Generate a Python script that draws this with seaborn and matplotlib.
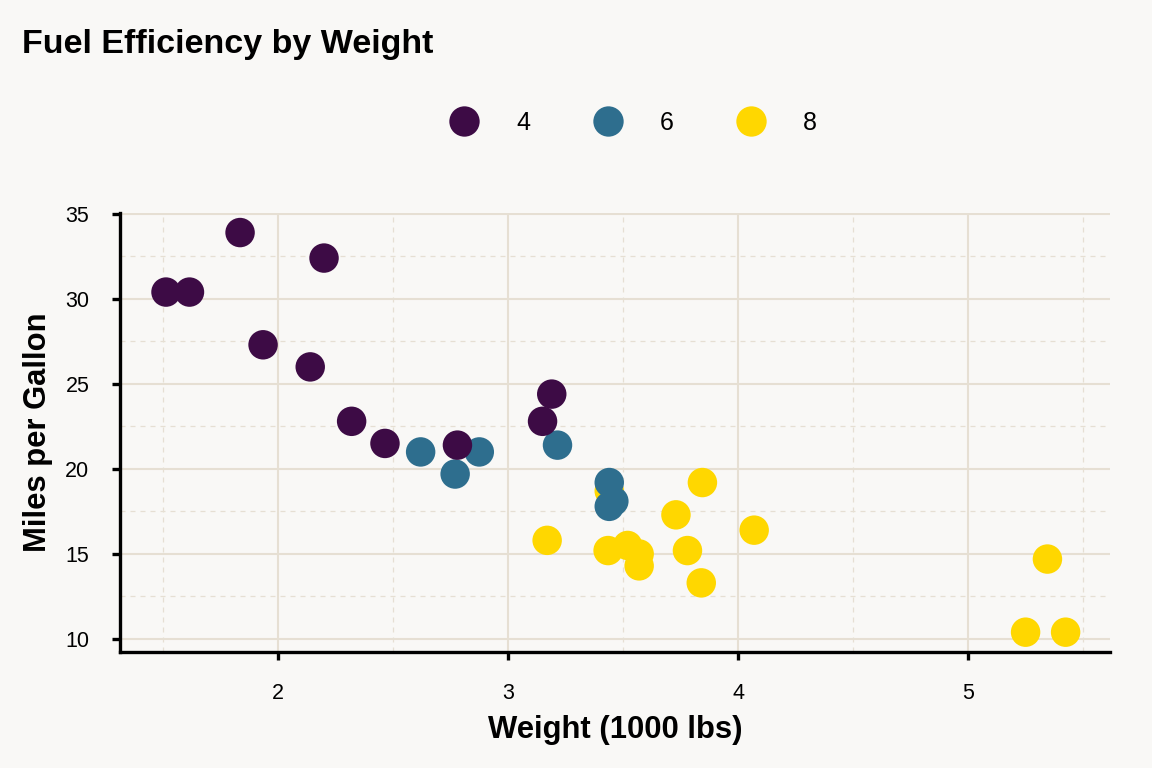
import pandas as pd
import matplotlib.pyplot as plt
import seaborn as sns
from matplotlib.ticker import MultipleLocator

# mtcars: weight (1000 lbs), mpg, cylinders
weight = [2.620, 2.875, 2.320, 3.215, 3.440, 3.460, 3.570, 3.190, 3.150, 3.440,
          3.440, 4.070, 3.730, 3.780, 5.250, 5.424, 5.345, 2.200, 1.615, 1.835,
          2.465, 3.520, 3.435, 3.840, 3.845, 1.935, 2.140, 1.513, 3.170, 2.770,
          3.570, 2.780]
mpg = [21.0, 21.0, 22.8, 21.4, 18.7, 18.1, 14.3, 24.4, 22.8, 19.2,
       17.8, 16.4, 17.3, 15.2, 10.4, 10.4, 14.7, 32.4, 30.4, 33.9,
       21.5, 15.5, 15.2, 13.3, 19.2, 27.3, 26.0, 30.4, 15.8, 19.7,
       15.0, 21.4]
cyl = [6, 6, 4, 6, 8, 6, 8, 4, 4, 6,
       6, 8, 8, 8, 8, 8, 8, 4, 4, 4,
       4, 8, 8, 8, 8, 4, 4, 4, 8, 6,
       8, 4]
cyl_levels = [4, 6, 8]
cyl_colors = ['#3d0b45', '#2e6e8e', '#ffd700']

df = pd.DataFrame({'wt': weight, 'mpg': mpg, 'cyl': cyl})
df['cyl'] = df['cyl'].astype(str)

bg = '#f9f8f6'
grid_col = '#e6dfd3'

sns.set_theme(style='white')
plt.rcParams['font.family'] = ['Liberation Sans', 'DejaVu Sans']
plt.rcParams['text.color'] = 'black'
plt.rcParams['axes.labelcolor'] = 'black'

fig = plt.figure(figsize=(11.52, 7.68), dpi=100, facecolor=bg)
ax = fig.add_axes([120 / 1152, 1 - 652 / 768, 990 / 1152, 439 / 768])
ax.set_facecolor(bg)

sns.scatterplot(data=df, x='wt', y='mpg', hue='cyl',
                hue_order=[str(c) for c in cyl_levels],
                palette=cyl_colors, s=450, linewidth=0, alpha=1,
                ax=ax, zorder=3)

ax.set_xlim(1.313, 5.617)
ax.set_ylim(9.235, 35.05)
ax.xaxis.set_major_locator(MultipleLocator(1))
ax.xaxis.set_minor_locator(MultipleLocator(0.5))
ax.yaxis.set_major_locator(MultipleLocator(5))
ax.yaxis.set_minor_locator(MultipleLocator(2.5))
ax.grid(which='major', color=grid_col, linewidth=1.5, zorder=0)
ax.grid(which='minor', color=grid_col, linewidth=0.9, linestyle=(0, (4, 4)), zorder=0)
ax.set_axisbelow(True)

for side in ['top', 'right']:
    ax.spines[side].set_visible(False)
for side in ['left', 'bottom']:
    ax.spines[side].set_color('black')
    ax.spines[side].set_linewidth(2.4)
ax.spines['left'].set_bounds(9.235, 35.05)

ax.tick_params(which='major', length=6, width=2.4, color='black',
               labelsize=15.5, pad=16, bottom=True, left=True, labelcolor='black')
ax.tick_params(which='minor', length=0)

ax.set_xlabel('Weight (1000 lbs)', fontsize=22.3, fontweight='bold', labelpad=8)
ax.set_ylabel('Miles per Gallon', fontsize=22.3, fontweight='bold', labelpad=9)

fig.text(22 / 1152, 1 - 45 / 768, 'Fuel Efficiency by Weight', fontsize=24.5,
         fontweight='bold', va='center', ha='left')

sns.move_legend(ax, 'center', bbox_to_anchor=(628 / 1152, 1 - 123 / 768),
                bbox_transform=fig.transFigure, ncol=3, title=None,
                frameon=False, fontsize=18, handletextpad=1.08,
                columnspacing=2.1, markerscale=1.03)

fig.savefig('out.png', dpi=100, facecolor=bg)
